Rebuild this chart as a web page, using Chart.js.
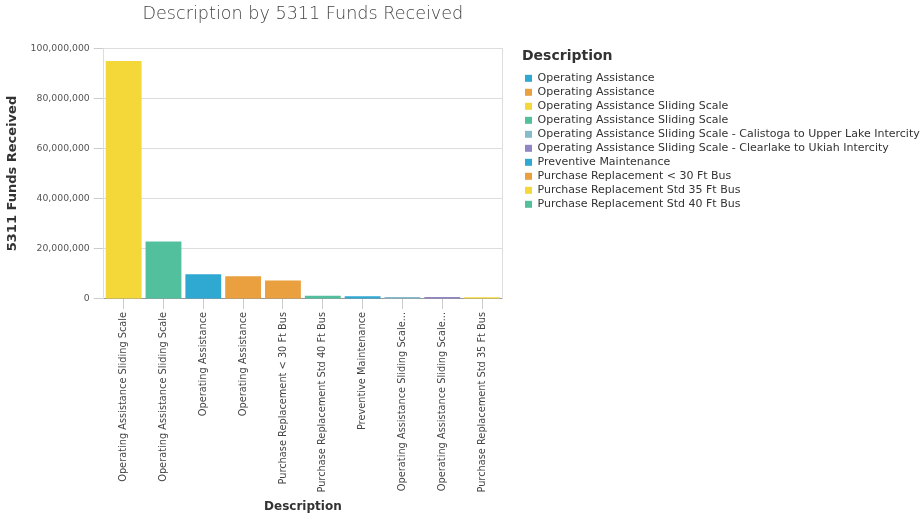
<!DOCTYPE html>
<html>
<head>
  <title>Description by 5311 Funds Received</title>
  <script src="https://cdn.jsdelivr.net/npm/chart.js@4.4.2/dist/chart.umd.min.js"></script>
  <style>
    body { margin: 0; background: #fff; }
    canvas { display: block; }
  </style>
</head>
<body>
  <canvas id="fundsChart" width="924" height="517"></canvas>
<script>
// bar order as drawn (sorted by funds)
const descriptions = [
  'Operating Assistance Sliding Scale',
  'Operating Assistance Sliding Scale',
  'Operating Assistance',
  'Operating Assistance',
  'Purchase Replacement < 30 Ft Bus',
  'Purchase Replacement Std 40 Ft Bus',
  'Preventive Maintenance',
  'Operating Assistance Sliding Scale - Calistoga to Upper Lake Intercity',
  'Operating Assistance Sliding Scale - Clearlake to Ukiah Intercity',
  'Purchase Replacement Std 35 Ft Bus'
];
const fundsReceived = [94900000, 22900000, 9800000, 9000000, 7300000, 1300000, 1100000, 800000, 800000, 700000];
const barColors = ['#f4d83a', '#52bf9d', '#2fa8d2', '#eaa03f', '#eaa03f', '#52bf9d', '#2fa8d2', '#86bbcc', '#9185c4', '#f4d83a'];

// legend entries (alphabetical)
const legendNames = [
  'Operating Assistance',
  'Operating Assistance',
  'Operating Assistance Sliding Scale',
  'Operating Assistance Sliding Scale',
  'Operating Assistance Sliding Scale - Calistoga to Upper Lake Intercity',
  'Operating Assistance Sliding Scale - Clearlake to Ukiah Intercity',
  'Preventive Maintenance',
  'Purchase Replacement < 30 Ft Bus',
  'Purchase Replacement Std 35 Ft Bus',
  'Purchase Replacement Std 40 Ft Bus'
];
const legendColors = ['#2fa8d2', '#eaa03f', '#f4d83a', '#52bf9d', '#86bbcc', '#9185c4', '#2fa8d2', '#eaa03f', '#f4d83a', '#52bf9d'];

const yTicks = [0, 20000000, 40000000, 60000000, 80000000, 100000000];

Chart.defaults.font.family = '"DejaVu Sans", Verdana, sans-serif';

const ctx = document.getElementById('fundsChart').getContext('2d');
const chart = new Chart(ctx, {
  type: 'bar',
  data: {
    labels: descriptions,
    datasets: [{
      label: '5311 Funds Received',
      data: fundsReceived,
      backgroundColor: barColors,
      borderWidth: 0,
      categoryPercentage: 0.9,
      barPercentage: 1
    }]
  },
  options: {
    responsive: false,
    animation: false,
    layout: { padding: { left: 5, top: 2, bottom: 3, right: 0 } },
    plugins: {
      tooltip: { enabled: false },
      title: {
        display: true,
        text: 'Description by 5311 Funds Received',
        fullSize: false,
        color: '#444',
        font: { size: 17.6, weight: '200' },
        padding: { top: 2, bottom: 23 }
      },
      legend: {
        position: 'right',
        align: 'start',
        maxWidth: 402,
        title: {
          display: true,
          text: 'Description',
          position: 'start',
          color: '#333',
          font: { size: 14, weight: 'bold' },
          padding: { top: 47, bottom: 4 }
        },
        labels: {
          boxWidth: 7,
          boxHeight: 7,
          padding: 3,
          color: '#333',
          font: { size: 11 },
          generateLabels: () => legendNames.map((name, i) => ({
            text: name,
            fillStyle: legendColors[i],
            strokeStyle: legendColors[i],
            lineWidth: 0,
            hidden: false,
            index: i
          }))
        },
        onClick: null
      }
    },
    scales: {
      x: {
        offset: true,
        grid: { display: true, offset: false, drawOnChartArea: false, drawTicks: true, tickLength: 10, color: '#ccc' },
        border: { display: true, color: '#999' },
        ticks: {
          minRotation: 90,
          maxRotation: 90,
          autoSkip: false,
          padding: 3,
          color: '#444',
          font: { size: 9.8 },
          callback: function(value) {
            const s = this.getLabelForValue(value);
            return s.length > 40 ? s.slice(0, 34) + '...' : s;
          }
        },
        title: { display: true, text: 'Description', color: '#333', font: { size: 12, weight: 'bold' }, padding: { top: 4, bottom: 0 } }
      },
      y: {
        min: 0,
        max: 100000000,
        afterBuildTicks: (scale) => { scale.ticks = yTicks.map(v => ({ value: v })); },
        grid: { color: '#ddd', tickLength: 10, tickColor: '#ccc' },
        border: { display: true, color: '#ddd' },
        ticks: {
          color: '#555',
          font: { size: 9.3 },
          padding: 4,
          callback: (v) => v.toLocaleString('en-US')
        },
        title: { display: true, text: '5311 Funds Received', color: '#333', font: { size: 13, weight: 'bold' }, padding: { top: 0, bottom: 6 } }
      },
      yRight: {
        position: 'right',
        min: 0,
        max: 100000000,
        grid: { display: false },
        border: { display: true, color: '#ddd' },
        ticks: { display: false },
        afterFit: (scale) => { scale.width = 20; }
      }
    }
  }
});
</script>
</body>
</html>
